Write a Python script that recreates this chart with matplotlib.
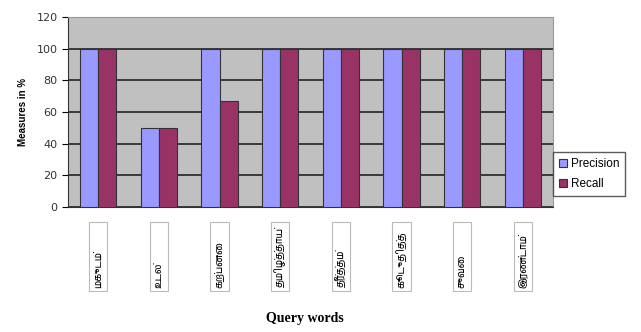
import matplotlib
matplotlib.use('Agg')
from matplotlib import pyplot as plt
from matplotlib import font_manager
from matplotlib.patches import Rectangle
import matplotlib.transforms as mtransforms
import numpy as np

words = ['மகுடம்', 'உடல்', 'கற்பனை', 'தமிழ்த்தாய்', 'தீர்த்தம்', 'கூடுதித்த', 'சுவை', 'இரண்டாம்']
precision = [100, 50, 100, 100, 100, 100, 100, 100]
recall = [100, 50, 66.67, 100, 100, 100, 100, 100]

# pick a font that has Tamil glyphs if one is around
tamil = [f.name for f in font_manager.fontManager.ttflist if 'Tamil' in f.name]
label_fam = tamil[:1] + ['DejaVu Sans']

fig = plt.figure(figsize=(6.41, 3.32), dpi=100)
ax = fig.add_axes([0.106, 0.3765, 0.757, 0.572])
ax.set_facecolor('#c0c0c0')

x = np.arange(len(words))
w = 0.3
ax.bar(x - w/2, precision, w, color='#9999ff', edgecolor='#333333', linewidth=0.8, label='Precision', zorder=3)
ax.bar(x + w/2, recall, w, color='#993366', edgecolor='#333333', linewidth=0.8, label='Recall', zorder=3)

ax.set_xlim(-0.5, len(words) - 0.5)
ax.set_ylim(0, 120)
ax.set_yticks(range(0, 121, 20))
ax.yaxis.grid(True, color='#222222', linewidth=1.2, zorder=1)
ax.tick_params(axis='y', labelsize=8, labelcolor='#333333', length=4, direction='out')
for s in ['top', 'right']:
    ax.spines[s].set_color('#999999')
ax.spines['left'].set_color('#333333')
ax.spines['bottom'].set_color('#333333')

# boxed, rotated category labels hanging under the axis
ax.set_xticks(x)
ax.set_xticklabels([])
ax.tick_params(axis='x', length=0)
trans = mtransforms.blended_transform_factory(ax.transData, ax.transAxes)
for i, wd in enumerate(words):
    ax.add_patch(Rectangle((x[i] - 0.15, -0.44), 0.3, 0.36, transform=trans, facecolor='white',
                           edgecolor='#bbbbbb', linewidth=0.8, clip_on=False))
    ax.text(x[i], -0.425, wd, transform=trans, rotation=90, ha='center', va='bottom',
            fontsize=7, family=label_fam)

ax.set_ylabel('Measures in %', fontsize=7, fontweight='bold', family='Liberation Sans', labelpad=6)

ax.legend(loc='upper left', bbox_to_anchor=(1.0, 0.29), borderaxespad=0, frameon=True,
          fancybox=False, edgecolor='#333333', handlelength=0.7, handleheight=0.7,
          handletextpad=0.3, borderpad=0.5, labelspacing=0.7, prop={'family': 'Liberation Sans', 'size': 8.5})

fig.text(0.476, 0.042, 'Query words', ha='center', va='center', fontsize=10,
         fontweight='bold', family='Liberation Serif')

plt.savefig('out.png', dpi=100)
